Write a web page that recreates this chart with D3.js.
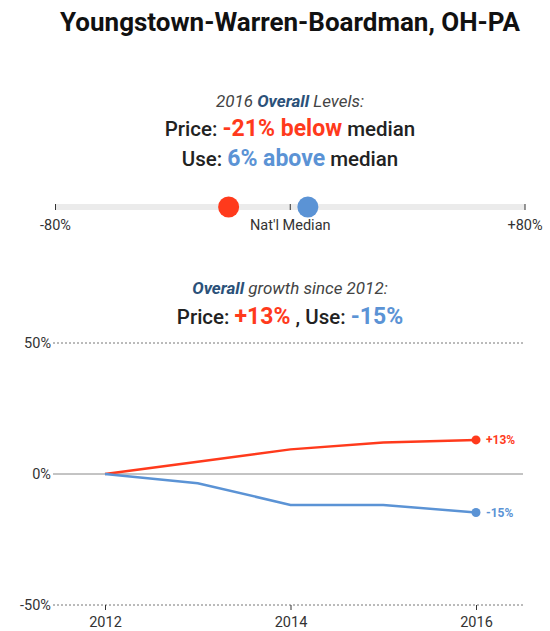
<!DOCTYPE html>
<html>
<head>
<meta charset="utf-8">
<script src="https://cdn.jsdelivr.net/npm/d3@7"></script>
<style>
  body { margin: 0; background: #fff; font-family: Roboto, 'Noto Sans', sans-serif; }
  svg text { font-family: Roboto, 'Noto Sans', sans-serif; }
</style>
</head>
<body>
<script>
(function () {
  'use strict'

  var title = 'Youngstown-Warren-Boardman, OH-PA'
  var levelNames = ['Price', 'Use']
  var levelValues = [-21, 6]
  var levelTicks = [-80, 0, 80]
  var levelTickLabels = ['-80%', "Nat'l Median", '+80%']
  var years = [2012, 2013, 2014, 2015, 2016]
  var priceGrowth = [0, 4.7, 9.4, 12.0, 13.0]
  var useGrowth = [0, -3.5, -11.8, -11.8, -14.7]
  var growthTicks = [-50, 0, 50]
  var yearTicks = [2012, 2014, 2016]

  var red = '#ff3a1c'
  var blue = '#5b93d5'
  var dark = '#222'
  var cx = 290

  var svg = d3.select('body').append('svg')
    .attr('width', 550)
    .attr('height', 631)

  svg.append('text')
    .attr('x', cx).attr('y', 31)
    .attr('text-anchor', 'middle')
    .attr('font-size', 26).attr('font-weight', 700)
    .attr('fill', '#111')
    .text(title)

  // Level summary
  var sub = svg.append('text')
    .attr('x', cx).attr('y', 107)
    .attr('text-anchor', 'middle')
    .attr('font-size', 17).attr('font-style', 'italic').attr('fill', '#444')
  sub.append('tspan').text('2016 ')
  sub.append('tspan').attr('font-weight', 700).attr('fill', '#2b5179').text('Overall')
  sub.append('tspan').text(' Levels:')

  function levelLine (i, y) {
    var v = levelValues[i]
    var t = svg.append('text')
      .attr('x', cx).attr('y', y)
      .attr('text-anchor', 'middle')
      .attr('font-size', 20.5).attr('font-weight', 500).attr('fill', dark)
    t.append('tspan').text(levelNames[i] + ': ')
    t.append('tspan')
      .attr('font-size', 23).attr('font-weight', 700)
      .attr('fill', i === 0 ? red : blue)
      .text(v >= 0 ? v + '% above' : v + '% below')
    t.append('tspan').text(' median')
  }
  levelLine(0, 136)
  levelLine(1, 166)

  // Level bar
  var lx = d3.scaleLinear().domain([-80, 80]).range([55.5, 525])
  var barY = 207

  svg.append('line')
    .attr('x1', lx(-80)).attr('x2', lx(80))
    .attr('y1', barY).attr('y2', barY)
    .attr('stroke', '#ebebeb').attr('stroke-width', 6)

  svg.selectAll('.ltick').data(levelTicks)
    .enter().append('line')
    .attr('x1', function (d) { return lx(d) })
    .attr('x2', function (d) { return lx(d) })
    .attr('y1', barY - 3).attr('y2', barY + 3)
    .attr('stroke', '#333').attr('stroke-width', 1)

  svg.selectAll('.llabel').data(levelTicks)
    .enter().append('text')
    .attr('x', function (d) { return lx(d) })
    .attr('y', 230)
    .attr('text-anchor', 'middle')
    .attr('font-size', 14.5).attr('fill', '#333')
    .text(function (d, i) { return levelTickLabels[i] })

  svg.selectAll('.ldot').data(levelValues)
    .enter().append('circle')
    .attr('cx', function (d) { return lx(d) })
    .attr('cy', barY)
    .attr('r', 10.5)
    .attr('fill', function (d, i) { return i === 0 ? red : blue })

  // Growth summary
  var gsub = svg.append('text')
    .attr('x', cx).attr('y', 294)
    .attr('text-anchor', 'middle')
    .attr('font-size', 17).attr('font-style', 'italic').attr('fill', '#444')
  gsub.append('tspan').attr('font-weight', 700).attr('fill', '#2b5179').text('Overall')
  gsub.append('tspan').text(' growth since 2012:')

  function fmt (v) { return (v > 0 ? '+' : '') + Math.round(v) + '%' }
  var pLast = priceGrowth[priceGrowth.length - 1]
  var uLast = useGrowth[useGrowth.length - 1]

  var gl = svg.append('text')
    .attr('x', cx).attr('y', 324)
    .attr('text-anchor', 'middle')
    .attr('font-size', 20.5).attr('font-weight', 500).attr('fill', dark)
  gl.append('tspan').text('Price: ')
  gl.append('tspan').attr('font-size', 23).attr('font-weight', 700).attr('fill', red).text(fmt(pLast))
  gl.append('tspan').text(' , Use: ')
  gl.append('tspan').attr('font-size', 23).attr('font-weight', 700).attr('fill', blue).text(fmt(uLast))

  // Growth chart
  var x = d3.scaleLinear().domain([2012, 2016]).range([105, 476])
  var y = d3.scaleLinear().domain([-50, 50]).range([605, 343])

  svg.selectAll('.grid').data(growthTicks)
    .enter().append('line')
    .attr('x1', 53).attr('x2', 523)
    .attr('y1', function (d) { return y(d) })
    .attr('y2', function (d) { return y(d) })
    .attr('stroke', function (d) { return d === 0 ? '#888' : '#777' })
    .attr('stroke-width', 1)
    .attr('stroke-dasharray', function (d) { return d === 0 ? null : '2,2' })

  svg.selectAll('.ylabel').data(growthTicks)
    .enter().append('text')
    .attr('x', 51)
    .attr('y', function (d) { return y(d) + 5 })
    .attr('text-anchor', 'end')
    .attr('font-size', 14.5).attr('fill', '#333')
    .text(function (d) { return d + '%' })

  var xAxis = svg.append('g')
    .attr('transform', 'translate(0,' + y(-50) + ')')
    .call(d3.axisBottom(x).tickValues(yearTicks).tickFormat(d3.format('d')).tickSize(5))
  xAxis.select('.domain').remove()
  xAxis.selectAll('.tick line').attr('stroke', '#333')
  xAxis.selectAll('.tick text')
    .attr('font-size', 14.5).attr('fill', '#333')
    .attr('font-family', 'Roboto, sans-serif')
    .attr('y', 12)

  var line = d3.line()
    .x(function (d, i) { return x(years[i]) })
    .y(function (d) { return y(d) })

  var series = [
    { values: priceGrowth, color: red },
    { values: useGrowth, color: blue }
  ]

  series.forEach(function (s) {
    svg.append('path')
      .datum(s.values)
      .attr('d', line)
      .attr('fill', 'none')
      .attr('stroke', s.color)
      .attr('stroke-width', 2.5)

    var last = s.values[s.values.length - 1]
    svg.append('circle')
      .attr('cx', x(years[years.length - 1]))
      .attr('cy', y(last))
      .attr('r', 4.5)
      .attr('fill', s.color)

    svg.append('text')
      .attr('x', x(years[years.length - 1]) + 10)
      .attr('y', y(last) + 4.5)
      .attr('font-size', 12).attr('font-weight', 700)
      .attr('fill', s.color)
      .text(fmt(last))
  })
}())
</script>
</body>
</html>
